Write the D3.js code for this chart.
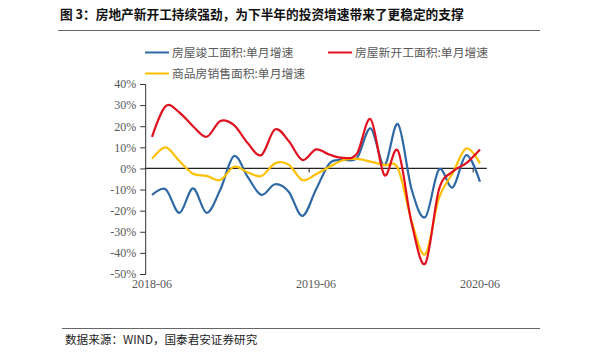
<!DOCTYPE html>
<html>
<head>
<meta charset="utf-8">
<script src="https://cdn.jsdelivr.net/npm/d3@7/dist/d3.min.js"></script>
<style>
  body { margin: 0; background: #fff; }
  svg { display: block; }
</style>
</head>
<body>
<svg id="chart" width="600" height="362"></svg>
<script>
// monthly categories, 2018-06 .. 2020-06
var months = ['2018-06','2018-07','2018-08','2018-09','2018-10','2018-11','2018-12',
              '2019-01','2019-02','2019-03','2019-04','2019-05','2019-06','2019-07',
              '2019-08','2019-09','2019-10','2019-11','2019-12','2020-01','2020-02',
              '2020-03','2020-04','2020-05','2020-06'];

// single-month growth, %
var completion = [-12.6, -9.9, -21, -9.4, -21, -10, 5.9, -4, -12.5, -7.5, -11, -22.5, -10,
                  2.5, 4, 5, 19, 1.5, 21, -10, -23, -0.5, -9, 6.3, -6.3];
var newStarts  = [15, 29.5, 26.5, 20, 15, 22.5, 20.5, 12, 6.3, 18.5, 13, 4, 9,
                  6.5, 5, 7, 23.3, -3.1, 8.4, -26, -45, -10, -1.5, 2.5, 9];
var sales      = [4.5, 10, 3.5, -2.5, -3.5, -5.5, 0.8, -1.8, -3.6, 2.4, 1.8, -5.5, -2.7,
                  0.8, 4, 4.5, 3.2, 1.6, 0, -25, -40.6, -14, -2.3, 9.5, 2.4];

var seriesNames  = ['房屋竣工面积:单月增速', '房屋新开工面积:单月增速', '商品房销售面积:单月增速'];
var seriesColors = ['#2e69a6', '#e0101e', '#ffc000'];

var yTicks  = [40, 30, 20, 10, 0, -10, -20, -30, -40, -50];
var xLabels = ['2018-06', '2019-06', '2020-06'];

var svg = d3.select('#chart');
var serif = '"Liberation Serif", "Times New Roman", serif';
var cjk = '"Noto Sans CJK SC", sans-serif';

// plot area
var plot = {l: 145.2, r: 486.8, t: 84, b: 274};

var x = d3.scaleBand().domain(months).range([plot.l, plot.r]).padding(0);
var y = d3.scaleLinear().domain([-50, 40]).range([plot.b, plot.t]);
var xc = function(m) { return x(m) + x.bandwidth() / 2; };

// title + rules
svg.append('text')
    .attr('x', 60).attr('y', 19)
    .attr('font-family', cjk).attr('font-size', 12.7).attr('font-weight', 'bold')
    .attr('fill', '#111')
    .text('图 3：房地产新开工持续强劲，为下半年的投资增速带来了更稳定的支撑');
svg.append('line').attr('x1', 58).attr('x2', 540).attr('y1', 30.5).attr('y2', 30.5)
    .attr('stroke', '#666').attr('stroke-width', 1);
svg.append('line').attr('x1', 62).attr('x2', 540).attr('y1', 328.5).attr('y2', 328.5)
    .attr('stroke', '#666').attr('stroke-width', 1);
svg.append('text')
    .attr('x', 65).attr('y', 344)
    .attr('font-family', cjk).attr('font-size', 11.6).attr('fill', '#222')
    .text('数据来源：WIND，国泰君安证券研究');

// y axis
var yAxis = d3.axisLeft(y).tickValues(yTicks).tickSize(5).tickPadding(4)
    .tickFormat(function(d) { return d + '%'; });
var gy = svg.append('g').attr('transform', 'translate(' + plot.l + ',0)').call(yAxis);
gy.select('.domain').attr('stroke', '#333');
gy.selectAll('.tick line').attr('stroke', '#333');
gy.selectAll('.tick text').attr('font-family', serif).attr('font-size', 12).attr('fill', '#595959');

// zero line with ticks between categories
var gz = svg.append('g');
gz.append('line').attr('x1', plot.l).attr('x2', plot.r)
    .attr('y1', y(0)).attr('y2', y(0)).attr('stroke', '#222').attr('stroke-width', 1.2);
gz.selectAll('.xtick').data(xLabels.slice(1)).enter().append('line')
    .attr('class', 'xtick')
    .attr('x1', function(d) { return x(d); }).attr('x2', function(d) { return x(d); })
    .attr('y1', y(0)).attr('y2', y(0) + 4)
    .attr('stroke', '#222');

// x labels at the bottom
var xAxis = d3.axisBottom(x).tickValues(xLabels).tickSize(0).tickPadding(0);
var gx = svg.append('g').attr('transform', 'translate(0,' + (plot.b + 3) + ')').call(xAxis);
gx.select('.domain').remove();
gx.selectAll('.tick text').attr('font-family', serif).attr('font-size', 12)
    .attr('fill', '#595959').attr('dy', '0.9em');

// lines
var allSeries = [completion, newStarts, sales];
var line = d3.line()
    .x(function(d, i) { return xc(months[i]); })
    .y(function(d) { return y(d); })
    .curve(d3.curveCardinal.tension(0));

// draw order: blue, yellow, red on top
[0, 2, 1].forEach(function(k) {
    svg.append('path')
        .datum(allSeries[k])
        .attr('d', line)
        .attr('fill', 'none')
        .attr('stroke', seriesColors[k])
        .attr('stroke-width', 2.2)
        .attr('stroke-linejoin', 'round');
});

// legend
var legendPos = [[145, 52.5], [328, 52.5], [145, 73.5]];
var lg = svg.append('g');
legendPos.forEach(function(p, k) {
    lg.append('line').attr('x1', p[0]).attr('x2', p[0] + 24)
        .attr('y1', p[1]).attr('y2', p[1])
        .attr('stroke', seriesColors[k]).attr('stroke-width', 2);
    lg.append('text').attr('x', p[0] + 27).attr('y', p[1] + 4.5)
        .attr('font-family', cjk).attr('font-size', 11.8).attr('fill', '#595959')
        .text(seriesNames[k]);
});
</script>
</body>
</html>
